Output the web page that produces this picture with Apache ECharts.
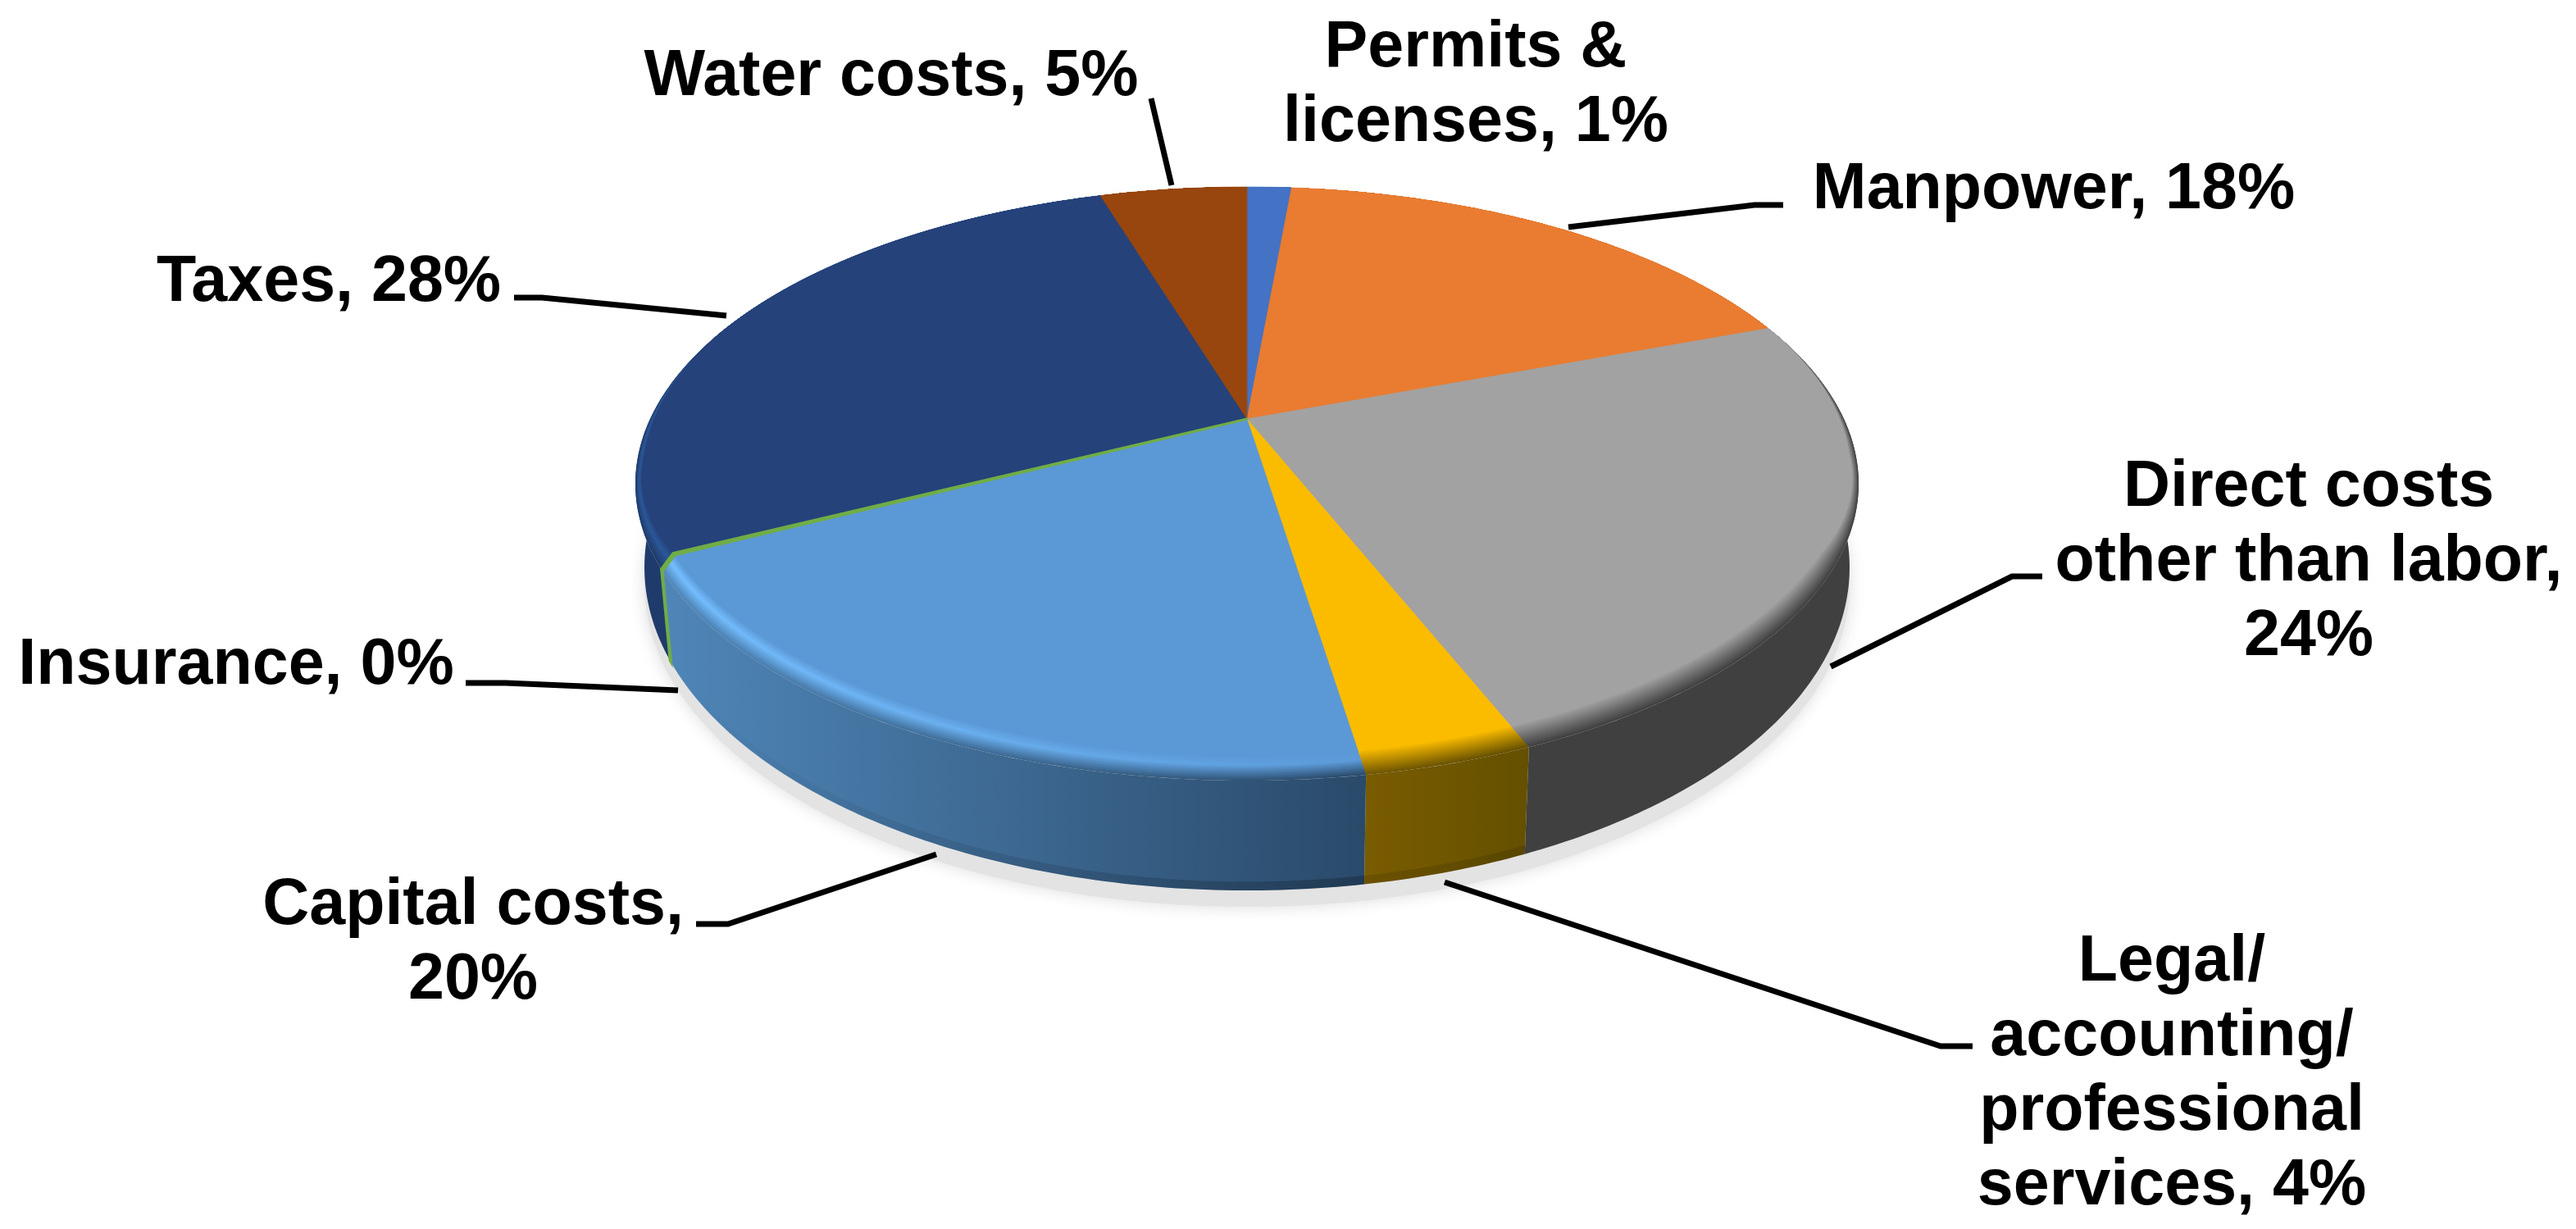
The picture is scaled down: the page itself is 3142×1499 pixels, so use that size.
<!DOCTYPE html>
<html>
<head>
<meta charset="utf-8">
<style>html,body{margin:0;padding:0;background:#fff}#c{width:3142px;height:1499px}</style>
<script src="https://cdn.jsdelivr.net/npm/echarts@6/dist/echarts.min.js"></script>
</head>
<body>
<div id="c"></div>
<script>
// ---- data (share of cost, percent, clockwise from 12 o'clock) ----
const categories = ["Permits & licenses","Manpower","Direct costs other than labor","Legal/ accounting/ professional services","Capital costs","Insurance","Taxes","Water costs"];
const values = [1.45, 17.95, 24.45, 3.65, 20.1, 0.1, 27.5, 4.8];
const labelStems = ["Permits &\nlicenses, ","Manpower, ","Direct costs\nother than labor,\n","Legal/\naccounting/\nprofessional\nservices, ","Capital costs,\n","Insurance, ","Taxes, ","Water costs, "];

// ---- styling ----
const faceColors = ["#4472c4","#e97c31","#a2a2a2","#fbbc00","#5b98d6","#70ad47","#25427a","#98460e"];
const rimColors  = [null,null,null,null,["#74beff","#5b9ad8"],null,["#2b5798","#2b5798"],null];
const wallColors = [["#2f5496","#2f5496"],["#8a4a1c","#8a4a1c"],["#404040","#404040"],["#7a5c00","#645000"],["#4f86b8","#2a4a6a"],["#70ad47","#70ad47"],["#1f3b6b","#1f3b6b"],["#5c2a08","#5c2a08"]];
const footShade  = [[0,0],[0,0],[0,0],[0.12,0.12],[0,0.22],[0,0],[0,0],[0,0]];

// ---- layout (image pixels) ----
const W = 3142, H = 1499;
const disc = {cx:1521, cy:511, A:344.8, B:728, k:0.2182,
  rimY:590, rimRx:746, rimRy:362,           // outer rim ellipse
  footY:692, footRx:735, footRy:394,        // lower outline ellipse
  bevel:30, inset:8, cornerPull:0.006};
const labelCenters = [[1800,105],[2505,232],[2816,686],[2649,1311],[577,1151],[288,812],[401,345],[1087,94]];
const leaderPaths = [
  null,
  [[1913,277],[2140,250],[2175,250]],
  [[2233,813],[2454,703],[2491,703]],
  [[1762,1076],[2367,1276],[2406,1276]],
  [[1142,1042],[888,1127],[849,1127]],
  [[827,842],[617,833],[568,833]],
  [[886,385],[661,363],[627,363]],
  [[1429,226],[1404,120]]
];
const labelFont = 'bold 79px "Liberation Sans", Arial, sans-serif';
const labelLineHeight = 91;

// ---- cumulative shares -> slice extents ----
const total = values.reduce((a,b)=>a+b,0);
let acc = 0;
const sliceData = values.map((v,i)=>{const s=acc/total; acc+=v; return {name:categories[i], value:[s, acc/total, v]};});
const INS = categories.indexOf("Insurance");
const roundedEdges = [sliceData[INS].value[0], sliceData[INS].value[1]];
// the raised corner beside the thin Insurance slice is rounded off towards the rim
function pull(f,depth){
  return roundedEdges.some(e=>Math.abs(e-f)<1e-9) ? f-disc.cornerPull*depth : f;
}

const clamp01 = x=>Math.max(0,Math.min(1,x));
function rimPoint(frac){
  const th=2*Math.PI*frac, u=Math.sin(th), v=Math.cos(th), w=1+disc.k*v;
  return [disc.cx+disc.B*u/w, disc.cy-disc.A*v/w];
}
function bevelPoint(frac,d){
  const P=rimPoint(frac), dx=P[0]-disc.cx, dy=P[1]-disc.cy;
  const sinPhi=(P[1]-disc.rimY)/disc.rimRy;
  const s=disc.bevel*(1-d)*clamp01((sinPhi+0.1)/0.35);
  const X=disc.rimRx-disc.inset*(1-d)*clamp01((sinPhi+0.5)/0.4), R=disc.rimRy;
  const c0=disc.cy-disc.rimY+s;
  const a=dx*dx/(X*X)+dy*dy/(R*R), b=2*c0*dy/(R*R), c=c0*c0/(R*R)-1;
  const tau=(-b+Math.sqrt(b*b-4*a*c))/(2*a);
  return [disc.cx+tau*dx, disc.cy+tau*dy];
}
function footPoint(frac){
  const P=rimPoint(frac);
  return [disc.cx+(P[0]-disc.cx)*disc.footRx/disc.rimRx, disc.footY+(P[1]-disc.rimY)*disc.footRy/disc.rimRy];
}
function sample(a,b,fn){
  const n=Math.max(2,Math.ceil((b-a)/0.002)+1), pts=[];
  for(let i=0;i<n;i++) pts.push(fn(a+(b-a)*i/(n-1)));
  return pts;
}
function hex(c){return [1,3,5].map(i=>parseInt(c.substr(i,2),16));}
function mix(a,b,t){const x=hex(a),y=hex(b);return 'rgb('+x.map((v,i)=>Math.round(v+(y[i]-v)*t)).join(',')+')';}
function rimColor(i,t,side){
  const top=faceColors[i], wall=wallColors[i][side], hl=rimColors[i]&&rimColors[i][side];
  if(!hl) return mix(top,wall,t);
  return t<0.4 ? mix(top,hl,t/0.4) : mix(hl,wall,(t-0.4)/0.6);
}
function hFill(l,r){return {type:'linear',x:0,y:0,x2:1,y2:0,colorStops:[{offset:0,color:l},{offset:1,color:r}]};}
const toPx = (api,pts)=>pts.map(p=>api.coord(p));

function renderShadow(params,api){
  if(params.dataIndex!==0) return null;
  const pts=sample(0,1,footPoint).map(p=>[p[0],p[1]+20]);
  return {type:'polygon',shape:{points:toPx(api,pts)},style:{fill:'#e3e3e3',shadowBlur:20,shadowColor:'#dcdcdc'}};
}
function renderWall(params,api){
  const i=params.dataIndex,a=pull(api.value(0),1),b=pull(api.value(1),1);
  const top=sample(a,b,rimPoint), bot=sample(a,b,footPoint);
  const band=top.map((p,j)=>[p[0]+(bot[j][0]-p[0])*0.92,p[1]+(bot[j][1]-p[1])*0.92]);
  const isIns=i===INS, kids=[
    {type:'polygon',z2:isIns?5:1,shape:{points:toPx(api,top.concat(bot.slice().reverse()))},
     style:{fill:hFill(wallColors[i][0],wallColors[i][1]),stroke:isIns?faceColors[i]:null,lineWidth:isIns?3:0}}
  ];
  if(footShade[i][1]>0) kids.push({type:'polygon',z2:2,shape:{points:toPx(api,band.concat(bot.slice().reverse()))},
     style:{fill:hFill('rgba(0,0,0,'+footShade[i][0]+')','rgba(0,0,0,'+footShade[i][1]+')')}});
  return {type:'group',children:kids};
}
const rimSteps=20;
function renderFace(params,api){
  const i=params.dataIndex,a0=api.value(0),b0=api.value(1),kids=[];
  const isIns=i===INS;
  for(let s=rimSteps;s>=0;s--){
    const t=s/rimSteps;
    const a=pull(a0,t), b=pull(b0,t);
    const pts=[[disc.cx,disc.cy]].concat(sample(a,b,f=>bevelPoint(f,t)));
    const order=(rimSteps-s)*10+(isIns?5:0);
    const fill=s===0?faceColors[i]:hFill(rimColor(i,t,0),rimColor(i,t,1));
    kids.push({type:'polygon',z2:order,shape:{points:toPx(api,pts)},
      style:{fill:isIns?faceColors[i]:fill,stroke:isIns?faceColors[i]:(s===0?faceColors[i]:null),lineWidth:isIns?3:(s===0?0.6:0),lineJoin:'round'}});
  }
  return {type:'group',children:kids};
}
function renderLabel(params,api){
  const i=params.dataIndex, c=api.coord(labelCenters[i]), kids=[];
  kids.push({type:'text',style:{text:labelStems[i]+Math.round(api.value(2))+'%',x:c[0],y:c[1],fill:'#000',font:labelFont,align:'center',verticalAlign:'middle',lineHeight:labelLineHeight}});
  if(leaderPaths[i]) kids.push({type:'polyline',shape:{points:toPx(api,leaderPaths[i])},style:{fill:null,stroke:'#000',lineWidth:7,lineJoin:'miter'}});
  return {type:'group',children:kids};
}
const base={type:'custom',coordinateSystem:'cartesian2d',clip:false,silent:true,animation:false,data:sliceData,encode:{x:[],y:[]}};
const chart=echarts.init(document.getElementById('c'),null,{renderer:'canvas',width:W,height:H});
chart.setOption({
  animation:false,backgroundColor:'#ffffff',
  grid:{left:0,right:0,top:0,bottom:0},
  xAxis:{type:'value',min:0,max:W,show:false},
  yAxis:{type:'value',min:0,max:H,inverse:true,show:false},
  series:[
    Object.assign({},base,{name:'shadow',z:1,renderItem:renderShadow}),
    Object.assign({},base,{name:'walls',z:2,renderItem:renderWall}),
    Object.assign({},base,{name:'faces',z:3,renderItem:renderFace}),
    Object.assign({},base,{name:'labels',z:4,renderItem:renderLabel})
  ]
});
</script>
</body>
</html>
